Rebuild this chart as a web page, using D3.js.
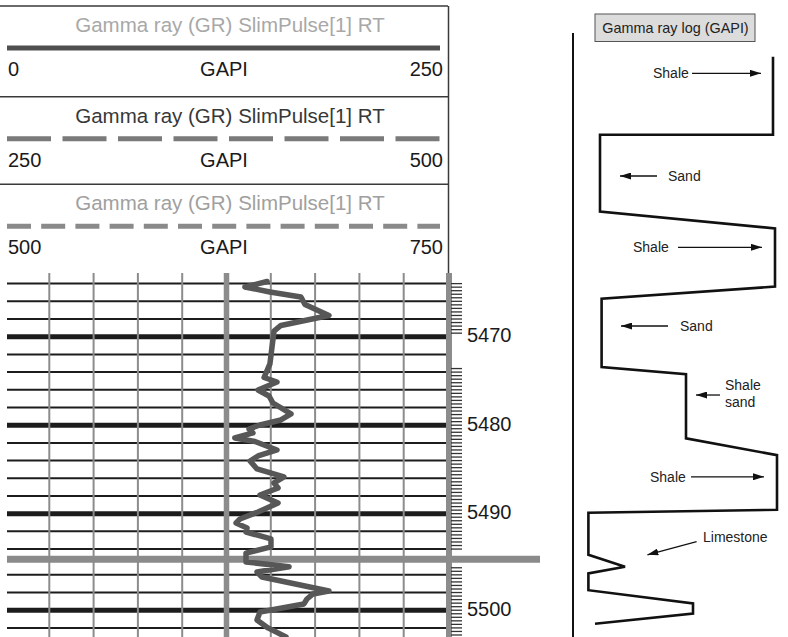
<!DOCTYPE html>
<html><head><meta charset="utf-8">
<script src="https://cdn.jsdelivr.net/npm/d3@7/dist/d3.min.js"></script>
<style>
body{margin:0;background:#fff}
svg{display:block;font-family:"Liberation Sans",Arial,Helvetica,sans-serif}
</style>
</head><body>
<svg id="chart" width="788" height="637"></svg>
<script>
// ---------------- DATA ----------------
const trackTitle = "Gamma ray (GR) SlimPulse[1] RT";
const trackUnit = "GAPI";
const trackMin = [0, 250, 500];
const trackMax = [250, 500, 750];

// GR curve (depth in ft, value in GAPI, first track 0-250)
const grDepth = [5463.76,5464.38,5464.95,5465.51,5466.36,5467.60,5468.73,5469.36,5473.08,5474.61,
  5475.12,5476.02,5476.70,5477.49,5478.73,5479.41,5479.98,5480.43,5480.88,5481.45,
  5481.84,5482.80,5483.48,5484.05,5484.95,5485.85,5486.53,5487.10,5487.89,5488.79,
  5489.81,5490.60,5491.05,5491.62,5492.07,5492.86,5493.76,5494.42,5494.82,5495.08,
  5495.68,5496.24,5497.82,5498.16,5498.73,5499.29,5500.20,5501.10,5502.00,5503.02];
const grValue = [147.9,135.4,149.5,167.0,169.3,182.8,155.7,151.8,149.5,146.2,
  153.5,142.8,149.0,151.2,161.4,155.7,143.9,137.7,139.9,129.7,
  141.1,153.5,142.8,138.3,142.2,157.4,151.8,154.1,143.9,154.1,
  142.8,132.6,130.4,136.6,136.0,150.1,150.1,136.0,136.0,160.3,
  142.2,145.0,182.8,173.8,170.4,168.7,143.9,142.2,148.4,158.6];

const depthLabels = [5470, 5480, 5490, 5500];
const gridMinorStep = 2;     // ft
const gridMajorStep = 10;    // ft
const markerDepth = 5494.7;  // highlighted depth marker

// Schematic gamma-ray log (relative GR level 0-100, relative depth 0-100)
const schemLevel = [100,100,13.5,13.5,101,101,14.3,14.3,56.5,56.5,102,102,7.7,7.7,26,7.7,7.7,60,60,11];
const schemDepth = [3.3,16.3,16.3,29.1,31.9,41.6,43.6,55,56.2,66.9,69.7,78.8,79.3,86.3,88.3,89.4,92.2,94.4,96.1,97.8];
const schemTitle = "Gamma ray log (GAPI)";
const lithoNames = ["Shale", "Sand", "Shale", "Sand", "Shale|sand", "Shale", "Limestone"];

// ---------------- LAYOUT ----------------
const svg = d3.select("#chart");
const gridTop = 273, gridBottom = 637;
const x = d3.scaleLinear().domain([trackMin[0], trackMax[0]]).range([5, 448]);
const y = d3.scaleLinear()
  .domain([5462.8, 5494.4, 5495.0, 5503.05])
  .range([gridTop, 552.6, 566, 637.2]);

// header panels
const panelTops = [6, 96.7, 184.3];
const panelStyle = [
  {title:"#a8a8a8", stroke:"#4f4f4f", width:5, dash:null},
  {title:"#383838", stroke:"#7a7a7a", width:5, dash:"44,11.5"},
  {title:"#a0a0a0", stroke:"#8a8a8a", width:5, dash:"24,10.2"}
];
const header = svg.append("g");
panelTops.forEach((t,i)=>{
  header.append("line").attr("x1",0).attr("x2",448).attr("y1",t).attr("y2",t)
    .attr("stroke","#3a3a3a").attr("stroke-width",1.5);
  header.append("text").attr("x",230).attr("y",t+25.8).attr("text-anchor","middle")
    .attr("font-size",20.5).attr("fill",panelStyle[i].title).text(trackTitle);
  header.append("line").attr("x1",7).attr("x2",440).attr("y1",t+42).attr("y2",t+42)
    .attr("stroke",panelStyle[i].stroke).attr("stroke-width",panelStyle[i].width)
    .attr("stroke-dasharray",panelStyle[i].dash);
  header.append("text").attr("x",8).attr("y",t+70).attr("font-size",20).attr("fill","#1a1a1a").text(trackMin[i]);
  header.append("text").attr("x",224).attr("y",t+70).attr("text-anchor","middle").attr("font-size",20).attr("fill","#1a1a1a").text(trackUnit);
  header.append("text").attr("x",443).attr("y",t+70).attr("text-anchor","end").attr("font-size",20).attr("fill","#1a1a1a").text(trackMax[i]);
});
header.append("line").attr("x1",448.5).attr("x2",448.5).attr("y1",6).attr("y2",gridTop)
  .attr("stroke","#3a3a3a").attr("stroke-width",1.5);

// grid
const grid = svg.append("g");
const hDepths = d3.range(5464, 5503, gridMinorStep);
grid.selectAll("line.h").data(hDepths).join("line")
  .attr("x1",7).attr("x2",448).attr("y1",d=>y(d)).attr("y2",d=>y(d))
  .attr("stroke","#1c1c1c").attr("stroke-width",d=>d%gridMajorStep===0?5:2);
const vVals = d3.range(1, 10).map(i=>trackMin[0] + i*(trackMax[0]-trackMin[0])/10);
grid.selectAll("line.v").data(vVals).join("line")
  .attr("x1",d=>x(d)).attr("x2",d=>x(d)).attr("y1",gridTop).attr("y2",gridBottom)
  .attr("stroke","#8c8c8c").attr("stroke-width",(d,i)=>i===4?5.5:2);

// depth marker band
grid.append("line").attr("x1",7).attr("x2",540).attr("y1",y(markerDepth)).attr("y2",y(markerDepth))
  .attr("stroke","#8a8a8a").attr("stroke-width",7);

// GR curve
svg.append("defs").append("clipPath").attr("id","gclip").append("rect")
  .attr("x",0).attr("y",gridTop).attr("width",450).attr("height",gridBottom-gridTop);
const line = d3.line().x(d=>x(d[1])).y(d=>y(d[0]));
svg.append("path").attr("clip-path","url(#gclip)")
  .datum(grDepth.map((d,i)=>[d, grValue[i]]))
  .attr("d",line).attr("fill","none").attr("stroke","#575757").attr("stroke-width",5.5)
  .attr("stroke-linejoin","round").attr("stroke-linecap","round");

// depth track (right edge)
svg.append("line").attr("x1",x(trackMax[0])+1).attr("x2",x(trackMax[0])+1).attr("y1",gridTop).attr("y2",gridBottom)
  .attr("stroke","#8c8c8c").attr("stroke-width",6);
const tickDepths = d3.range(0, 98).map(i=>+(5464 + i*0.4).toFixed(1))
  .filter(d=>!(d>5469.7 && d<5473.3) && !(d>5494.3 && d<5495.1));
svg.selectAll("line.tk").data(tickDepths).join("line")
  .attr("x1",451).attr("x2",462).attr("y1",d=>y(d)).attr("y2",d=>y(d))
  .attr("stroke","#333").attr("stroke-width",1.3);
svg.selectAll("text.dl").data(depthLabels).join("text")
  .attr("x",467).attr("y",d=>y(d)-1.5).attr("dy","0.36em")
  .attr("font-size",20).attr("fill","#1a1a1a").text(d=>d);

// ---------------- SCHEMATIC ----------------
const sx = d3.scaleLinear().domain([0,100]).range([573,773]);
const sy = d3.scaleLinear().domain([0,100]).range([37,637]);
const sch = svg.append("g");
sch.append("line").attr("x1",sx(0)).attr("x2",sx(0)).attr("y1",33).attr("y2",637)
  .attr("stroke","#111").attr("stroke-width",2);
sch.append("rect").attr("x",595).attr("y",14).attr("width",160).attr("height",27.5)
  .attr("fill","#dcdcdc").attr("stroke","#555").attr("stroke-width",1);
sch.append("text").attr("x",675.5).attr("y",28).attr("dy","0.35em").attr("text-anchor","middle")
  .attr("font-size",14.4).attr("fill","#222").text(schemTitle);
const sline = d3.line().x(d=>sx(d[0])).y(d=>sy(d[1]));
sch.append("path").datum(schemLevel.map((v,i)=>[v, schemDepth[i]]))
  .attr("d",sline).attr("fill","none").attr("stroke","#111").attr("stroke-width",2.6)
  .attr("stroke-linejoin","miter");

// annotation placement (schematic units)
const annot = [
  {tx:40,   ty:6.05,  ax1:59.5, ay1:6.05, ax2:94,  ay2:6.05},
  {tx:47.5, ty:23.17, ax1:42,   ay1:23.17, ax2:23.5, ay2:23.17},
  {tx:30,   ty:35.05, ax1:52.5, ay1:35.05, ax2:94.5, ay2:35.05},
  {tx:53.5, ty:48.17, ax1:47.5, ay1:48.17, ax2:24,  ay2:48.17},
  {tx:76,   ty:59.4,  ax1:73.5, ay1:59.67, ax2:61.5, ay2:59.67},
  {tx:38.5, ty:73.3,  ax1:59,   ay1:73.3, ax2:95.5, ay2:73.3},
  {tx:65,   ty:83.3,  ax1:61.8, ay1:84.1, ax2:37.2, ay2:86.3}
];
const defs = svg.select("defs");
defs.append("marker").attr("id","ah").attr("viewBox","0 0 11 7").attr("refX",11).attr("refY",3.5)
  .attr("markerWidth",11).attr("markerHeight",7).attr("markerUnits","userSpaceOnUse").attr("orient","auto")
  .append("path").attr("d","M0,0L11,3.5L0,7Z").attr("fill","#111");
lithoNames.forEach((name,i)=>{
  const a = annot[i];
  sch.append("line").attr("x1",sx(a.ax1)).attr("y1",sy(a.ay1)).attr("x2",sx(a.ax2)).attr("y2",sy(a.ay2))
    .attr("stroke","#111").attr("stroke-width",1.3).attr("marker-end","url(#ah)");
  const parts = name.split("|");
  const t = sch.append("text").attr("font-size",14).attr("fill","#222");
  parts.forEach((p,j)=>{
    t.append("tspan").attr("x",sx(a.tx)).attr("y",sy(a.ty) + (j-(parts.length-1)/2)*16.5).attr("dy","0.36em").text(p);
  });
});
</script>
</body></html>
